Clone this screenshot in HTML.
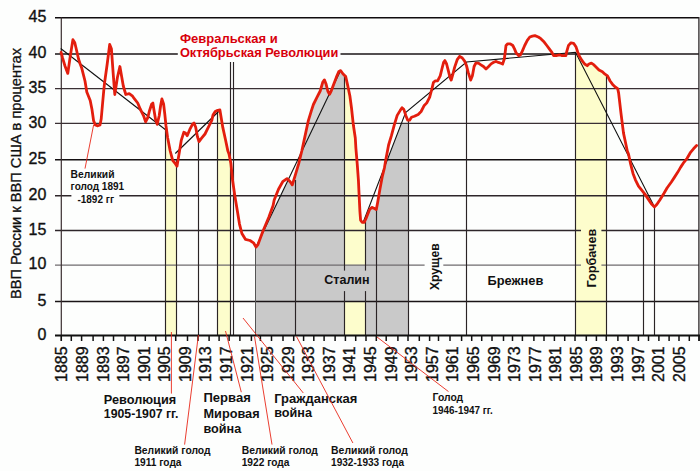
<!DOCTYPE html>
<html><head><meta charset="utf-8"><style>
html,body{margin:0;padding:0;background:#fdfefd;}
svg{display:block;}
</style></head><body>
<svg width="700" height="471" viewBox="0 0 700 471">
<rect x="0" y="0" width="700" height="471" fill="#fdfefd"/>
<path d="M166.0,336.0 L166.0,126.0 L167.6,137.4 L170.2,151.0 L172.7,160.3 L175.3,163.7 L176.4,165.3 L176.4,336.0 Z" fill="#fdfdcc"/>
<path d="M217.7,336.0 L217.7,110.3 L219.9,110.0 L221.1,117.2 L222.8,127.4 L225.4,139.2 L227.9,151.1 L229.0,154.0 L230.5,161.4 L230.5,336.0 Z" fill="#fdfdcc"/>
<path d="M344.7,336.0 L344.7,75.5 L345.7,76.5 L347.4,84.1 L349.9,96.0 L351.5,108.0 L353.4,125.3 L355.3,138.0 L355.9,148.3 L357.2,163.6 L358.4,179.9 L359.1,194.8 L359.9,211.1 L360.6,220.1 L362.1,222.3 L364.3,222.3 L366.0,218.5 L366.0,336.0 Z" fill="#fdfdcc"/>
<path d="M575.8,336.0 L575.8,46.6 L576.1,47.1 L577.8,52.2 L579.5,56.4 L582.1,60.7 L584.6,64.0 L587.2,65.7 L588.9,64.0 L591.4,63.2 L594.0,64.9 L596.5,67.4 L599.0,70.0 L602.4,71.7 L605.0,74.2 L606.2,75.0 L606.2,336.0 Z" fill="#fdfdcc"/>
<path d="M300.0,336.0 L300.0,158.4 L301.8,151.0 L305.0,136.1 L308.2,121.2 L311.4,110.6 L313.4,104.5 L316.8,97.7 L320.2,91.0 L322.7,82.4 L324.4,79.9 L326.1,84.1 L327.8,91.0 L329.5,94.3 L331.2,91.0 L333.8,84.1 L336.3,77.4 L338.9,71.4 L340.6,70.6 L343.1,74.0 L344.7,75.5 L344.7,336.0 Z" fill="#d5d5d5"/>
<path d="M255.70,336.0 L255.70,246.50 L255.95,246.92 L256.00,247.00 L256.20,246.77 L256.45,246.48 L256.70,246.18 L256.95,245.89 L257.20,245.60 L257.45,245.31 L257.70,245.02 L257.80,244.90 L257.95,244.49 L258.20,243.82 L258.45,243.14 L258.70,242.47 L258.95,241.79 L259.20,241.12 L259.45,240.44 L259.70,239.77 L259.95,239.09 L260.20,238.41 L260.45,237.74 L260.70,237.20 L260.95,236.68 L261.20,236.16 L261.45,235.64 L261.70,235.11 L261.95,234.59 L262.20,234.07 L262.45,233.55 L262.50,233.45 L262.70,233.03 L262.95,232.51 L263.20,231.99 L263.45,231.47 L263.70,230.94 L263.95,230.42 L264.20,229.90 L264.45,229.38 L264.70,228.86 L264.95,228.34 L265.20,227.82 L265.45,227.30 L265.70,226.77 L265.95,226.25 L266.20,225.73 L266.45,225.21 L266.70,224.69 L266.95,224.17 L267.20,223.65 L267.45,223.13 L267.70,222.60 L267.95,222.08 L268.20,221.56 L268.45,221.04 L268.70,220.52 L268.80,220.31 L268.95,220.00 L269.20,219.48 L269.45,218.96 L269.70,218.43 L269.95,217.91 L270.20,217.39 L270.45,216.87 L270.70,216.35 L270.95,215.83 L271.20,215.31 L271.45,214.79 L271.70,214.26 L271.95,213.74 L272.20,213.22 L272.45,212.70 L272.70,212.18 L272.95,211.66 L273.10,211.34 L273.20,211.14 L273.45,210.61 L273.70,210.09 L273.95,209.57 L274.20,209.05 L274.45,208.53 L274.70,208.01 L274.95,207.49 L275.20,206.97 L275.45,206.44 L275.70,205.92 L275.95,205.40 L276.20,204.88 L276.45,204.36 L276.70,203.84 L276.95,203.32 L277.20,202.80 L277.45,202.27 L277.70,201.75 L277.95,201.23 L278.20,200.71 L278.45,200.19 L278.50,200.09 L278.70,199.67 L278.95,199.15 L279.20,198.63 L279.45,198.10 L279.70,197.58 L279.95,197.06 L280.20,196.54 L280.45,196.02 L280.70,195.50 L280.95,194.98 L281.20,194.46 L281.45,193.93 L281.70,193.41 L281.95,192.89 L282.20,192.37 L282.45,191.85 L282.70,191.33 L282.95,190.81 L283.20,190.29 L283.45,189.76 L283.70,189.24 L283.95,188.72 L284.20,188.20 L284.45,187.68 L284.70,187.16 L284.95,186.64 L285.20,186.11 L285.45,185.59 L285.70,185.07 L285.95,184.55 L286.20,184.03 L286.45,183.51 L286.70,182.99 L286.95,182.47 L287.00,182.36 L287.20,181.94 L287.45,181.42 L287.70,180.90 L287.95,180.38 L288.20,179.86 L288.45,180.00 L288.70,180.25 L288.95,180.49 L289.20,180.73 L289.45,180.97 L289.70,181.22 L289.95,181.46 L290.20,181.70 L290.45,182.08 L290.70,182.46 L290.95,182.84 L291.20,183.22 L291.45,183.60 L291.70,183.99 L291.95,184.37 L292.20,184.75 L292.30,184.90 L292.45,184.40 L292.70,183.58 L292.95,182.75 L293.20,181.92 L293.45,181.09 L293.70,180.26 L293.95,179.43 L294.20,178.61 L294.45,177.78 L294.70,176.95 L294.95,176.12 L295.20,175.29 L295.45,174.47 L295.50,174.30 L295.70,173.64 L295.95,172.81 L296.20,171.98 L296.45,171.15 L296.70,170.33 L296.95,169.50 L297.20,168.67 L297.45,167.84 L297.70,167.01 L297.95,166.18 L298.20,165.36 L298.45,164.53 L298.70,163.70 L298.95,162.68 L299.20,161.65 L299.45,160.63 L299.70,159.60 L299.95,158.58 L300.20,157.55 L300.45,156.53 L300.70,155.51 L300.95,154.48 L301.20,153.46 L301.45,152.43 L301.70,151.71 L301.80,151.50 L301.95,151.19 L302.20,150.67 L302.45,150.15 L302.70,149.63 L302.95,149.10 L303.20,148.58 L303.45,148.06 L303.70,147.54 L303.95,147.02 L304.20,146.50 L304.45,145.98 L304.70,145.46 L304.95,144.93 L305.00,144.83 L305.20,144.41 L305.45,143.89 L305.70,143.37 L305.95,142.85 L306.20,142.33 L306.45,141.81 L306.70,141.29 L306.95,140.76 L307.20,140.24 L307.45,139.72 L307.70,139.20 L307.95,138.68 L308.20,138.16 L308.45,137.64 L308.70,137.11 L308.95,136.59 L309.20,136.07 L309.45,135.55 L309.70,135.03 L309.95,134.51 L310.20,133.99 L310.45,133.47 L310.70,132.94 L310.95,132.42 L311.20,131.90 L311.40,131.49 L311.45,131.38 L311.70,130.86 L311.95,130.34 L312.20,129.82 L312.45,129.30 L312.70,128.77 L312.95,128.25 L313.20,127.73 L313.40,127.31 L313.45,127.21 L313.70,126.69 L313.95,126.17 L314.20,125.65 L314.45,125.13 L314.70,124.60 L314.95,124.08 L315.20,123.56 L315.45,123.04 L315.70,122.52 L315.95,122.00 L316.20,121.48 L316.45,120.96 L316.70,120.43 L316.80,120.23 L316.95,119.91 L317.20,119.39 L317.45,118.87 L317.70,118.35 L317.95,117.83 L318.20,117.31 L318.45,116.79 L318.70,116.26 L318.95,115.74 L319.20,115.22 L319.45,114.70 L319.70,114.18 L319.95,113.66 L320.20,113.14 L320.45,112.61 L320.70,112.09 L320.95,111.57 L321.20,111.05 L321.45,110.53 L321.70,110.01 L321.95,109.49 L322.20,108.97 L322.45,108.44 L322.70,107.92 L322.95,107.40 L323.20,106.88 L323.45,106.36 L323.70,105.84 L323.95,105.32 L324.20,104.80 L324.40,104.38 L324.45,104.27 L324.70,103.75 L324.95,103.23 L325.20,102.71 L325.45,102.19 L325.70,101.67 L325.95,101.15 L326.10,100.83 L326.20,100.63 L326.45,100.10 L326.70,99.58 L326.95,99.06 L327.20,98.54 L327.45,98.02 L327.70,97.50 L327.80,97.29 L327.95,96.98 L328.20,96.46 L328.45,95.93 L328.70,95.41 L328.95,94.89 L329.20,94.37 L329.45,94.20 L329.50,94.30 L329.70,93.91 L329.95,93.43 L330.20,92.94 L330.45,92.46 L330.70,91.97 L330.95,91.49 L331.20,91.00 L331.45,90.34 L331.70,89.67 L331.95,89.01 L332.20,88.35 L332.45,87.68 L332.70,87.07 L332.95,86.55 L333.20,86.03 L333.45,85.51 L333.70,84.99 L333.80,84.78 L333.95,84.47 L334.20,83.94 L334.45,83.42 L334.70,82.90 L334.95,82.38 L335.20,81.86 L335.45,81.34 L335.70,80.82 L335.95,80.30 L336.20,79.77 L336.30,79.57 L336.45,79.25 L336.70,78.73 L336.95,78.21 L337.20,77.69 L337.45,77.17 L337.70,76.65 L337.95,76.13 L338.20,75.60 L338.45,75.08 L338.70,74.56 L338.90,74.14 L338.95,74.04 L339.20,73.52 L339.45,73.00 L339.70,72.48 L339.95,71.96 L340.20,71.43 L340.45,70.91 L340.60,70.60 L340.70,70.74 L340.95,71.08 L341.20,71.42 L341.45,71.76 L341.70,72.10 L341.95,72.44 L342.20,72.78 L342.45,73.12 L342.70,73.46 L342.95,73.80 L343.10,74.00 L343.20,74.10 L343.45,74.34 L343.70,74.58 L343.95,74.82 L344.20,75.06 L344.45,75.30 L344.70,75.54 L344.70,336.0 Z" fill="#c9c9c9"/>
<path d="M366.00,336.0 L366.00,218.46 L366.25,217.89 L366.50,217.33 L366.60,217.10 L366.75,216.73 L367.00,216.10 L367.25,215.48 L367.50,214.85 L367.75,214.23 L368.00,213.60 L368.25,212.98 L368.50,212.35 L368.75,211.73 L369.00,211.10 L369.25,210.48 L369.50,209.85 L369.60,209.60 L369.75,209.45 L370.00,209.20 L370.25,208.95 L370.50,208.70 L370.75,208.45 L371.00,208.20 L371.25,207.95 L371.50,207.70 L371.75,207.45 L371.80,207.40 L372.00,207.47 L372.25,207.56 L372.50,207.65 L372.75,207.75 L373.00,207.84 L373.25,207.93 L373.50,208.02 L373.75,208.11 L374.00,208.20 L374.25,208.35 L374.50,208.50 L374.75,208.66 L375.00,208.81 L375.25,208.96 L375.50,209.11 L375.75,209.27 L376.00,209.42 L376.25,209.57 L376.30,209.60 L376.50,208.54 L376.75,207.22 L377.00,205.90 L377.25,204.58 L377.50,203.26 L377.70,202.20 L377.75,201.91 L378.00,200.45 L378.25,199.00 L378.50,197.54 L378.75,196.08 L379.00,194.63 L379.25,193.17 L379.50,191.71 L379.75,190.26 L380.00,188.80 L380.25,187.45 L380.50,186.10 L380.75,184.74 L381.00,183.39 L381.25,182.04 L381.50,180.69 L381.75,179.33 L382.00,177.98 L382.20,176.90 L382.25,176.70 L382.50,175.69 L382.75,174.67 L383.00,173.66 L383.25,172.65 L383.50,171.64 L383.75,170.63 L384.00,169.62 L384.25,168.61 L384.40,168.00 L384.50,167.41 L384.75,166.46 L385.00,165.81 L385.25,165.16 L385.50,164.52 L385.70,164.00 L385.75,163.87 L386.00,163.22 L386.25,162.57 L386.50,161.93 L386.75,161.28 L387.00,160.63 L387.25,159.99 L387.50,159.34 L387.75,158.69 L388.00,158.05 L388.25,157.40 L388.50,156.75 L388.60,156.49 L388.75,156.10 L389.00,155.46 L389.25,154.81 L389.50,154.16 L389.75,153.52 L390.00,152.87 L390.25,152.22 L390.50,151.58 L390.75,150.93 L391.00,150.28 L391.25,149.64 L391.50,148.99 L391.75,148.34 L392.00,147.69 L392.25,147.05 L392.50,146.40 L392.75,145.75 L393.00,145.11 L393.25,144.46 L393.50,143.81 L393.75,143.17 L394.00,142.52 L394.25,141.87 L394.30,141.74 L394.50,141.22 L394.75,140.58 L395.00,139.93 L395.25,139.28 L395.50,138.64 L395.75,137.99 L396.00,137.34 L396.25,136.70 L396.50,136.05 L396.75,135.40 L397.00,134.76 L397.20,134.24 L397.25,134.11 L397.50,133.46 L397.75,132.81 L398.00,132.17 L398.25,131.52 L398.50,130.87 L398.75,130.23 L399.00,129.58 L399.25,128.93 L399.50,128.29 L399.75,127.64 L400.00,126.99 L400.10,126.73 L400.25,126.34 L400.50,125.70 L400.75,125.05 L401.00,124.40 L401.25,123.76 L401.50,123.30 L401.75,123.30 L402.00,123.30 L402.25,123.30 L402.50,123.30 L402.75,123.30 L403.00,123.30 L403.25,123.30 L403.50,123.30 L403.75,123.30 L403.90,123.30 L404.00,123.30 L404.25,123.30 L404.50,123.30 L404.75,123.30 L405.00,123.30 L405.25,123.30 L405.50,123.30 L405.75,123.30 L405.80,123.30 L406.00,123.30 L406.25,123.30 L406.50,123.30 L406.75,123.30 L407.00,123.30 L407.25,123.30 L407.50,123.30 L407.70,123.30 L407.75,123.30 L408.00,123.30 L408.25,123.30 L408.40,123.30 L408.40,336.0 Z" fill="#c9c9c9"/>
<rect x="344.7" y="265" width="21.3" height="36.5" fill="#c9c9c9"/>
<line x1="55" y1="17.8" x2="699" y2="17.8" stroke="#100c0e" stroke-width="1.6"/>
<line x1="55" y1="54.0" x2="699" y2="54.0" stroke="#1a1416" stroke-width="1.5"/>
<line x1="55" y1="88.7" x2="699" y2="88.7" stroke="#3a3034" stroke-width="1.3"/>
<line x1="55" y1="123.3" x2="699" y2="123.3" stroke="#3a3034" stroke-width="1.3"/>
<line x1="55" y1="159.8" x2="699" y2="159.8" stroke="#141012" stroke-width="1.6"/>
<line x1="55" y1="195.7" x2="699" y2="195.7" stroke="#2e262a" stroke-width="1.4"/>
<line x1="55" y1="230.5" x2="699" y2="230.5" stroke="#2e262a" stroke-width="1.4"/>
<line x1="55" y1="265.1" x2="699" y2="265.1" stroke="#6f6b6e" stroke-width="1.1"/>
<line x1="55" y1="301.5" x2="699" y2="301.5" stroke="#1a1416" stroke-width="1.5"/>
<line x1="165.5" y1="130" x2="165.5" y2="336" stroke="#2a2426" stroke-width="1.15"/>
<line x1="176.5" y1="160" x2="176.5" y2="336" stroke="#2a2426" stroke-width="1.15"/>
<line x1="198.5" y1="141" x2="198.5" y2="336" stroke="#2a2426" stroke-width="1.15"/>
<line x1="217.5" y1="111" x2="217.5" y2="336" stroke="#2a2426" stroke-width="1.15"/>
<line x1="230.5" y1="62" x2="230.5" y2="336" stroke="#2a2426" stroke-width="1.15"/>
<line x1="233.5" y1="62" x2="233.5" y2="336" stroke="#2a2426" stroke-width="1.15"/>
<line x1="295.5" y1="180" x2="295.5" y2="336" stroke="#2a2426" stroke-width="1.15"/>
<line x1="344.5" y1="76" x2="344.5" y2="336" stroke="#2a2426" stroke-width="1.15"/>
<line x1="365.5" y1="222" x2="365.5" y2="336" stroke="#2a2426" stroke-width="1.15"/>
<line x1="376.5" y1="208" x2="376.5" y2="336" stroke="#2a2426" stroke-width="1.15"/>
<line x1="408.5" y1="120" x2="408.5" y2="336" stroke="#2a2426" stroke-width="1.15"/>
<line x1="466.5" y1="62" x2="466.5" y2="336" stroke="#2a2426" stroke-width="1.15"/>
<line x1="575.5" y1="52" x2="575.5" y2="336" stroke="#2a2426" stroke-width="1.15"/>
<line x1="606.5" y1="74" x2="606.5" y2="336" stroke="#2a2426" stroke-width="1.15"/>
<line x1="643.5" y1="193" x2="643.5" y2="336" stroke="#2a2426" stroke-width="1.15"/>
<line x1="654.5" y1="207" x2="654.5" y2="336" stroke="#2a2426" stroke-width="1.15"/>
<line x1="255.5" y1="247" x2="255.5" y2="336" stroke="#555" stroke-width="1"/>
<line x1="698.9" y1="17" x2="698.9" y2="341" stroke="#2a2426" stroke-width="1.3"/>
<line x1="61.3" y1="17.3" x2="61.3" y2="341" stroke="#3a2e30" stroke-width="1.2"/>
<line x1="55" y1="335.5" x2="700" y2="335.5" stroke="#111" stroke-width="2"/>
<line x1="61.3" y1="336" x2="61.3" y2="341" stroke="#111" stroke-width="1.5"/>
<line x1="71.3" y1="336" x2="71.3" y2="341" stroke="#111" stroke-width="1.5"/>
<line x1="81.6" y1="336" x2="81.6" y2="341" stroke="#111" stroke-width="1.5"/>
<line x1="93.1" y1="336" x2="93.1" y2="341" stroke="#111" stroke-width="1.5"/>
<line x1="103.4" y1="336" x2="103.4" y2="341" stroke="#111" stroke-width="1.5"/>
<line x1="113.5" y1="336" x2="113.5" y2="341" stroke="#111" stroke-width="1.5"/>
<line x1="125.0" y1="336" x2="125.0" y2="341" stroke="#111" stroke-width="1.5"/>
<line x1="135.3" y1="336" x2="135.3" y2="341" stroke="#111" stroke-width="1.5"/>
<line x1="145.3" y1="336" x2="145.3" y2="341" stroke="#111" stroke-width="1.5"/>
<line x1="155.8" y1="336" x2="155.8" y2="341" stroke="#111" stroke-width="1.5"/>
<line x1="165.7" y1="336" x2="165.7" y2="341" stroke="#111" stroke-width="1.5"/>
<line x1="175.7" y1="336" x2="175.7" y2="341" stroke="#111" stroke-width="1.5"/>
<line x1="187.5" y1="336" x2="187.5" y2="341" stroke="#111" stroke-width="1.5"/>
<line x1="198.0" y1="336" x2="198.0" y2="341" stroke="#111" stroke-width="1.5"/>
<line x1="209.1" y1="336" x2="209.1" y2="341" stroke="#111" stroke-width="1.5"/>
<line x1="219.1" y1="336" x2="219.1" y2="341" stroke="#111" stroke-width="1.5"/>
<line x1="229.1" y1="336" x2="229.1" y2="341" stroke="#111" stroke-width="1.5"/>
<line x1="239.9" y1="336" x2="239.9" y2="341" stroke="#111" stroke-width="1.5"/>
<line x1="251.4" y1="336" x2="251.4" y2="341" stroke="#111" stroke-width="1.5"/>
<line x1="260.4" y1="336" x2="260.4" y2="341" stroke="#111" stroke-width="1.5"/>
<line x1="271.5" y1="336" x2="271.5" y2="341" stroke="#111" stroke-width="1.5"/>
<line x1="283.0" y1="336" x2="283.0" y2="341" stroke="#111" stroke-width="1.5"/>
<line x1="293.7" y1="336" x2="293.7" y2="341" stroke="#111" stroke-width="1.5"/>
<line x1="303.6" y1="336" x2="303.6" y2="341" stroke="#111" stroke-width="1.5"/>
<line x1="313.8" y1="336" x2="313.8" y2="341" stroke="#111" stroke-width="1.5"/>
<line x1="324.1" y1="336" x2="324.1" y2="341" stroke="#111" stroke-width="1.5"/>
<line x1="335.1" y1="336" x2="335.1" y2="341" stroke="#111" stroke-width="1.5"/>
<line x1="345.4" y1="336" x2="345.4" y2="341" stroke="#111" stroke-width="1.5"/>
<line x1="355.7" y1="336" x2="355.7" y2="341" stroke="#111" stroke-width="1.5"/>
<line x1="366.0" y1="336" x2="366.0" y2="341" stroke="#111" stroke-width="1.5"/>
<line x1="376.3" y1="336" x2="376.3" y2="341" stroke="#111" stroke-width="1.5"/>
<line x1="386.2" y1="336" x2="386.2" y2="341" stroke="#111" stroke-width="1.5"/>
<line x1="397.9" y1="336" x2="397.9" y2="341" stroke="#111" stroke-width="1.5"/>
<line x1="408.0" y1="336" x2="408.0" y2="341" stroke="#111" stroke-width="1.5"/>
<line x1="419.3" y1="336" x2="419.3" y2="341" stroke="#111" stroke-width="1.5"/>
<line x1="429.6" y1="336" x2="429.6" y2="341" stroke="#111" stroke-width="1.5"/>
<line x1="438.5" y1="336" x2="438.5" y2="341" stroke="#111" stroke-width="1.5"/>
<line x1="450.0" y1="336" x2="450.0" y2="341" stroke="#111" stroke-width="1.5"/>
<line x1="461.6" y1="336" x2="461.6" y2="341" stroke="#111" stroke-width="1.5"/>
<line x1="471.7" y1="336" x2="471.7" y2="341" stroke="#111" stroke-width="1.5"/>
<line x1="481.7" y1="336" x2="481.7" y2="341" stroke="#111" stroke-width="1.5"/>
<line x1="492.0" y1="336" x2="492.0" y2="341" stroke="#111" stroke-width="1.5"/>
<line x1="503.5" y1="336" x2="503.5" y2="341" stroke="#111" stroke-width="1.5"/>
<line x1="512.5" y1="336" x2="512.5" y2="341" stroke="#111" stroke-width="1.5"/>
<line x1="522.4" y1="336" x2="522.4" y2="341" stroke="#111" stroke-width="1.5"/>
<line x1="533.9" y1="336" x2="533.9" y2="341" stroke="#111" stroke-width="1.5"/>
<line x1="544.0" y1="336" x2="544.0" y2="341" stroke="#111" stroke-width="1.5"/>
<line x1="554.4" y1="336" x2="554.4" y2="341" stroke="#111" stroke-width="1.5"/>
<line x1="564.7" y1="336" x2="564.7" y2="341" stroke="#111" stroke-width="1.5"/>
<line x1="575.0" y1="336" x2="575.0" y2="341" stroke="#111" stroke-width="1.5"/>
<line x1="586.3" y1="336" x2="586.3" y2="341" stroke="#111" stroke-width="1.5"/>
<line x1="596.4" y1="336" x2="596.4" y2="341" stroke="#111" stroke-width="1.5"/>
<line x1="606.3" y1="336" x2="606.3" y2="341" stroke="#111" stroke-width="1.5"/>
<line x1="617.9" y1="336" x2="617.9" y2="341" stroke="#111" stroke-width="1.5"/>
<line x1="628.1" y1="336" x2="628.1" y2="341" stroke="#111" stroke-width="1.5"/>
<line x1="638.4" y1="336" x2="638.4" y2="341" stroke="#111" stroke-width="1.5"/>
<line x1="648.5" y1="336" x2="648.5" y2="341" stroke="#111" stroke-width="1.5"/>
<line x1="658.9" y1="336" x2="658.9" y2="341" stroke="#111" stroke-width="1.5"/>
<line x1="669.1" y1="336" x2="669.1" y2="341" stroke="#111" stroke-width="1.5"/>
<line x1="679.0" y1="336" x2="679.0" y2="341" stroke="#111" stroke-width="1.5"/>
<line x1="689.3" y1="336" x2="689.3" y2="341" stroke="#111" stroke-width="1.5"/>
<line x1="699.1" y1="336" x2="699.1" y2="341" stroke="#111" stroke-width="1.5"/>
<polyline points="60.7,48.5 166.5,130.5" fill="none" stroke="#111" stroke-width="1.1"/>
<polyline points="175.3,153.5 218.6,111.5" fill="none" stroke="#111" stroke-width="1.1"/>
<polyline points="256.0,247.0 340.6,70.6" fill="none" stroke="#111" stroke-width="1.1"/>
<polyline points="362.9,223.0 405.6,112.5 466.5,62.0 575.5,52.3 654.5,207.0" fill="none" stroke="#111" stroke-width="1.1"/>
<polyline points="61.1,52.3 62.4,57.4 65.0,66.0 67.8,73.4 70.0,58.0 72.9,39.6 74.8,42.8 76.5,50.0 78.6,59.3 80.0,63.5 81.8,68.3 85.0,81.0 86.8,91.9 90.2,100.4 91.9,108.9 93.6,120.7 95.3,125.0 97.8,125.8 100.0,125.0 101.2,119.0 102.4,105.5 103.8,90.2 104.6,82.6 107.2,64.0 109.7,44.4 111.4,48.7 113.1,72.4 114.8,94.5 117.4,77.5 119.9,66.5 123.3,86.0 125.8,94.5 129.2,93.7 132.6,96.2 134.3,98.7 137.7,103.0 140.2,109.0 143.6,115.8 145.6,121.8 147.8,117.5 149.5,110.7 151.7,104.0 152.9,103.1 153.8,109.0 155.5,119.2 157.2,124.3 159.2,115.8 160.6,105.7 161.9,98.9 163.6,104.0 164.8,114.1 166.0,126.0 167.6,137.4 170.2,151.0 172.7,160.3 175.3,163.7 177.0,166.2 178.7,156.0 181.2,140.7 183.8,132.3 185.5,133.1 187.2,135.7 189.7,129.7 192.3,124.6 194.0,123.0 195.7,127.2 197.4,136.5 199.0,141.6 201.6,138.2 205.0,134.0 208.4,127.2 211.8,120.4 213.0,115.0 215.2,111.5 217.7,110.3 219.9,110.0 221.1,117.2 222.8,127.4 225.4,139.2 227.9,151.1 229.0,154.0 230.9,163.4 232.5,179.7 234.9,196.1 237.2,210.1 239.5,224.1 241.9,233.5 245.4,239.3 250.0,240.5 253.5,242.8 256.0,247.0 257.8,244.9 262.5,232.2 268.8,217.3 273.1,205.6 274.2,200.0 278.5,189.2 282.7,181.7 287.0,178.6 290.2,181.7 292.3,184.9 295.5,174.3 298.7,163.7 301.8,151.0 305.0,136.1 308.2,121.2 311.4,110.6 313.4,104.5 316.8,97.7 320.2,91.0 322.7,82.4 324.4,79.9 326.1,84.1 327.8,91.0 329.5,94.3 331.2,91.0 333.8,84.1 336.3,77.4 338.9,71.4 340.6,70.6 343.1,74.0 345.7,76.5 347.4,84.1 349.9,96.0 351.5,108.0 353.4,125.3 355.3,138.0 355.9,148.3 357.2,163.6 358.4,179.9 359.1,194.8 359.9,211.1 360.6,220.1 362.1,222.3 364.3,222.3 366.6,217.1 369.6,209.6 371.8,207.4 374.0,208.2 376.3,209.6 377.7,202.2 380.0,188.8 382.2,176.9 384.4,168.0 385.7,160.3 388.6,145.0 391.5,135.4 394.3,124.9 397.2,115.4 400.1,110.6 402.0,107.7 403.9,109.6 405.8,115.4 407.7,120.2 409.6,120.2 411.5,117.3 414.4,116.3 418.2,114.4 421.1,111.5 424.0,105.8 426.8,102.9 429.7,97.2 431.6,90.0 433.4,82.6 435.1,80.9 437.6,80.9 440.2,75.8 441.9,69.0 443.6,62.3 444.9,60.6 446.6,64.0 448.3,70.7 450.0,77.5 451.2,80.1 452.9,74.1 454.6,67.4 457.2,59.7 459.7,56.3 462.3,58.0 464.8,61.4 466.5,65.7 468.2,72.4 470.7,80.1 472.4,75.8 474.1,66.5 475.8,63.1 478.4,63.1 480.9,64.8 483.5,66.5 486.0,69.0 488.6,66.5 491.1,63.9 493.7,62.3 496.2,61.4 498.4,62.4 500.9,63.3 502.6,64.1 504.3,59.0 505.2,52.3 506.0,45.5 507.7,43.8 510.3,43.8 512.8,45.5 514.5,48.9 516.2,53.1 518.8,55.7 520.5,54.8 522.2,51.4 524.7,45.5 527.3,40.4 529.8,37.0 532.4,36.1 534.9,35.6 538.3,37.0 540.8,38.7 544.2,42.1 546.8,45.5 549.3,48.9 551.9,52.3 553.6,55.7 556.1,55.7 559.5,54.8 562.1,55.7 565.9,55.6 566.8,51.3 568.5,45.4 571.0,42.8 573.6,43.3 576.1,47.1 577.8,52.2 579.5,56.4 582.1,60.7 584.6,64.0 587.2,65.7 588.9,64.0 591.4,63.2 594.0,64.9 596.5,67.4 599.0,70.0 602.4,71.7 605.0,74.2 607.5,75.9 610.1,81.0 612.6,84.4 615.2,87.0 617.7,88.7 618.6,92.9 619.4,99.7 620.9,112.7 622.2,122.9 623.5,133.1 625.4,142.0 627.3,151.0 628.5,154.0 630.6,163.9 633.0,173.4 635.4,179.8 638.5,186.2 641.7,190.2 644.9,194.1 648.1,198.9 651.3,203.7 654.5,206.9 656.8,204.5 660.0,199.7 664.0,193.3 667.2,187.8 671.2,182.2 674.4,177.4 677.5,172.6 680.7,167.1 683.9,162.3 687.1,158.3 690.3,152.7 693.5,148.8 696.6,145.5" fill="none" stroke="#e31e0e" stroke-width="2.8" stroke-linejoin="round" stroke-linecap="round"/>
<text x="46.3" y="22.1" font-family="Liberation Sans, sans-serif" font-size="16" text-anchor="end" fill="#111" stroke="#111" stroke-width="0.35">45</text>
<text x="46.3" y="58.3" font-family="Liberation Sans, sans-serif" font-size="16" text-anchor="end" fill="#111" stroke="#111" stroke-width="0.35">40</text>
<text x="46.3" y="93.0" font-family="Liberation Sans, sans-serif" font-size="16" text-anchor="end" fill="#111" stroke="#111" stroke-width="0.35">35</text>
<text x="46.3" y="127.6" font-family="Liberation Sans, sans-serif" font-size="16" text-anchor="end" fill="#111" stroke="#111" stroke-width="0.35">30</text>
<text x="46.3" y="164.1" font-family="Liberation Sans, sans-serif" font-size="16" text-anchor="end" fill="#111" stroke="#111" stroke-width="0.35">25</text>
<text x="46.3" y="200.0" font-family="Liberation Sans, sans-serif" font-size="16" text-anchor="end" fill="#111" stroke="#111" stroke-width="0.35">20</text>
<text x="46.3" y="234.8" font-family="Liberation Sans, sans-serif" font-size="16" text-anchor="end" fill="#111" stroke="#111" stroke-width="0.35">15</text>
<text x="46.3" y="269.4" font-family="Liberation Sans, sans-serif" font-size="16" text-anchor="end" fill="#111" stroke="#111" stroke-width="0.35">10</text>
<text x="46.3" y="305.8" font-family="Liberation Sans, sans-serif" font-size="16" text-anchor="end" fill="#111" stroke="#111" stroke-width="0.35">5</text>
<text x="46.3" y="340.4" font-family="Liberation Sans, sans-serif" font-size="16" text-anchor="end" fill="#111" stroke="#111" stroke-width="0.35">0</text>
<text transform="translate(21.3,299) rotate(-90)" font-family="Liberation Sans, sans-serif" font-size="15" fill="#111" stroke="#111" stroke-width="0.3" textLength="251" lengthAdjust="spacingAndGlyphs">ВВП России к ВВП США в процентах</text>
<text transform="translate(67.3,346.4) rotate(-90)" font-family="Liberation Sans, sans-serif" font-size="16" text-anchor="end" fill="#111" stroke="#111" stroke-width="0.35">1885</text>
<text transform="translate(87.9,346.4) rotate(-90)" font-family="Liberation Sans, sans-serif" font-size="16" text-anchor="end" fill="#111" stroke="#111" stroke-width="0.35">1889</text>
<text transform="translate(108.5,346.4) rotate(-90)" font-family="Liberation Sans, sans-serif" font-size="16" text-anchor="end" fill="#111" stroke="#111" stroke-width="0.35">1893</text>
<text transform="translate(129.0,346.4) rotate(-90)" font-family="Liberation Sans, sans-serif" font-size="16" text-anchor="end" fill="#111" stroke="#111" stroke-width="0.35">1897</text>
<text transform="translate(149.6,346.4) rotate(-90)" font-family="Liberation Sans, sans-serif" font-size="16" text-anchor="end" fill="#111" stroke="#111" stroke-width="0.35">1901</text>
<text transform="translate(170.2,346.4) rotate(-90)" font-family="Liberation Sans, sans-serif" font-size="16" text-anchor="end" fill="#111" stroke="#111" stroke-width="0.35">1905</text>
<text transform="translate(190.8,346.4) rotate(-90)" font-family="Liberation Sans, sans-serif" font-size="16" text-anchor="end" fill="#111" stroke="#111" stroke-width="0.35">1909</text>
<text transform="translate(211.4,346.4) rotate(-90)" font-family="Liberation Sans, sans-serif" font-size="16" text-anchor="end" fill="#111" stroke="#111" stroke-width="0.35">1913</text>
<text transform="translate(231.9,346.4) rotate(-90)" font-family="Liberation Sans, sans-serif" font-size="16" text-anchor="end" fill="#111" stroke="#111" stroke-width="0.35">1917</text>
<text transform="translate(252.5,346.4) rotate(-90)" font-family="Liberation Sans, sans-serif" font-size="16" text-anchor="end" fill="#111" stroke="#111" stroke-width="0.35">1921</text>
<text transform="translate(273.1,346.4) rotate(-90)" font-family="Liberation Sans, sans-serif" font-size="16" text-anchor="end" fill="#111" stroke="#111" stroke-width="0.35">1925</text>
<text transform="translate(293.7,346.4) rotate(-90)" font-family="Liberation Sans, sans-serif" font-size="16" text-anchor="end" fill="#111" stroke="#111" stroke-width="0.35">1929</text>
<text transform="translate(314.3,346.4) rotate(-90)" font-family="Liberation Sans, sans-serif" font-size="16" text-anchor="end" fill="#111" stroke="#111" stroke-width="0.35">1933</text>
<text transform="translate(334.8,346.4) rotate(-90)" font-family="Liberation Sans, sans-serif" font-size="16" text-anchor="end" fill="#111" stroke="#111" stroke-width="0.35">1937</text>
<text transform="translate(355.4,346.4) rotate(-90)" font-family="Liberation Sans, sans-serif" font-size="16" text-anchor="end" fill="#111" stroke="#111" stroke-width="0.35">1941</text>
<text transform="translate(376.0,346.4) rotate(-90)" font-family="Liberation Sans, sans-serif" font-size="16" text-anchor="end" fill="#111" stroke="#111" stroke-width="0.35">1945</text>
<text transform="translate(396.6,346.4) rotate(-90)" font-family="Liberation Sans, sans-serif" font-size="16" text-anchor="end" fill="#111" stroke="#111" stroke-width="0.35">1949</text>
<text transform="translate(417.2,346.4) rotate(-90)" font-family="Liberation Sans, sans-serif" font-size="16" text-anchor="end" fill="#111" stroke="#111" stroke-width="0.35">1953</text>
<text transform="translate(437.7,346.4) rotate(-90)" font-family="Liberation Sans, sans-serif" font-size="16" text-anchor="end" fill="#111" stroke="#111" stroke-width="0.35">1957</text>
<text transform="translate(458.3,346.4) rotate(-90)" font-family="Liberation Sans, sans-serif" font-size="16" text-anchor="end" fill="#111" stroke="#111" stroke-width="0.35">1961</text>
<text transform="translate(478.9,346.4) rotate(-90)" font-family="Liberation Sans, sans-serif" font-size="16" text-anchor="end" fill="#111" stroke="#111" stroke-width="0.35">1965</text>
<text transform="translate(499.5,346.4) rotate(-90)" font-family="Liberation Sans, sans-serif" font-size="16" text-anchor="end" fill="#111" stroke="#111" stroke-width="0.35">1969</text>
<text transform="translate(520.1,346.4) rotate(-90)" font-family="Liberation Sans, sans-serif" font-size="16" text-anchor="end" fill="#111" stroke="#111" stroke-width="0.35">1973</text>
<text transform="translate(540.6,346.4) rotate(-90)" font-family="Liberation Sans, sans-serif" font-size="16" text-anchor="end" fill="#111" stroke="#111" stroke-width="0.35">1977</text>
<text transform="translate(561.2,346.4) rotate(-90)" font-family="Liberation Sans, sans-serif" font-size="16" text-anchor="end" fill="#111" stroke="#111" stroke-width="0.35">1981</text>
<text transform="translate(581.8,346.4) rotate(-90)" font-family="Liberation Sans, sans-serif" font-size="16" text-anchor="end" fill="#111" stroke="#111" stroke-width="0.35">1985</text>
<text transform="translate(602.4,346.4) rotate(-90)" font-family="Liberation Sans, sans-serif" font-size="16" text-anchor="end" fill="#111" stroke="#111" stroke-width="0.35">1989</text>
<text transform="translate(623.0,346.4) rotate(-90)" font-family="Liberation Sans, sans-serif" font-size="16" text-anchor="end" fill="#111" stroke="#111" stroke-width="0.35">1993</text>
<text transform="translate(643.5,346.4) rotate(-90)" font-family="Liberation Sans, sans-serif" font-size="16" text-anchor="end" fill="#111" stroke="#111" stroke-width="0.35">1997</text>
<text transform="translate(664.1,346.4) rotate(-90)" font-family="Liberation Sans, sans-serif" font-size="16" text-anchor="end" fill="#111" stroke="#111" stroke-width="0.35">2001</text>
<text transform="translate(684.7,346.4) rotate(-90)" font-family="Liberation Sans, sans-serif" font-size="16" text-anchor="end" fill="#111" stroke="#111" stroke-width="0.35">2005</text>
<rect x="71.4" y="192" width="48" height="7" fill="#fdfefd"/>
<rect x="177.8" y="50" width="162.7" height="8" fill="#fdfefd"/>
<rect x="424.6" y="262" width="18.7" height="6" fill="#fdfefd"/>
<rect x="581" y="227" width="20.4" height="7" fill="#fdfdcc"/>
<rect x="581" y="262" width="20.4" height="6" fill="#fdfdcc"/>
<rect x="343" y="270.6" width="26" height="20.5" fill="#c9c9c9"/>
<text x="179.9" y="42.5" font-family="Liberation Sans, sans-serif" font-weight="bold" font-size="12" fill="#d8000c" textLength="97.9" lengthAdjust="spacingAndGlyphs" >Февральская и</text>
<text x="179.9" y="57" font-family="Liberation Sans, sans-serif" font-weight="bold" font-size="12" fill="#d8000c" textLength="158.4" lengthAdjust="spacingAndGlyphs" >Октябрьская Революции</text>
<text x="70.6" y="178" font-family="Liberation Sans, sans-serif" font-weight="bold" font-size="10" fill="#111" textLength="43.9" lengthAdjust="spacingAndGlyphs" >Великий</text>
<text x="70.6" y="190.4" font-family="Liberation Sans, sans-serif" font-weight="bold" font-size="10" fill="#111" textLength="53.5" lengthAdjust="spacingAndGlyphs" >голод 1891</text>
<text x="77.4" y="202.9" font-family="Liberation Sans, sans-serif" font-weight="bold" font-size="10" fill="#111" textLength="36.7" lengthAdjust="spacingAndGlyphs" >-1892 гг</text>
<text x="324.3" y="284.1" font-family="Liberation Sans, sans-serif" font-weight="bold" font-size="13" fill="#111" textLength="45.3" lengthAdjust="spacingAndGlyphs" >Сталин</text>
<text x="487.5" y="284.5" font-family="Liberation Sans, sans-serif" font-weight="bold" font-size="13" fill="#111" textLength="55.9" lengthAdjust="spacingAndGlyphs" >Брежнев</text>
<text transform="translate(439,290.1) rotate(-90)" font-family="Liberation Sans, sans-serif" font-weight="bold" font-size="13" fill="#111" textLength="46.8" lengthAdjust="spacingAndGlyphs">Хрущев</text>
<text transform="translate(595.5,287.5) rotate(-90)" font-family="Liberation Sans, sans-serif" font-weight="bold" font-size="13" fill="#111" textLength="58.7" lengthAdjust="spacingAndGlyphs">Горбачев</text>
<text x="103.8" y="403.6" font-family="Liberation Sans, sans-serif" font-weight="bold" font-size="13" fill="#111" textLength="72.4" lengthAdjust="spacingAndGlyphs" >Революция</text>
<text x="103.8" y="418.1" font-family="Liberation Sans, sans-serif" font-weight="bold" font-size="13" fill="#111" textLength="74.6" lengthAdjust="spacingAndGlyphs" >1905-1907 гг.</text>
<text x="203.5" y="402.4" font-family="Liberation Sans, sans-serif" font-weight="bold" font-size="13" fill="#111" textLength="47.3" lengthAdjust="spacingAndGlyphs" >Первая</text>
<text x="203.5" y="417.5" font-family="Liberation Sans, sans-serif" font-weight="bold" font-size="13" fill="#111" textLength="56.1" lengthAdjust="spacingAndGlyphs" >Мировая</text>
<text x="203.5" y="432.9" font-family="Liberation Sans, sans-serif" font-weight="bold" font-size="13" fill="#111" textLength="37.8" lengthAdjust="spacingAndGlyphs" >война</text>
<text x="274.2" y="402.8" font-family="Liberation Sans, sans-serif" font-weight="bold" font-size="13" fill="#111" textLength="83.1" lengthAdjust="spacingAndGlyphs" >Гражданская</text>
<text x="274.2" y="417.2" font-family="Liberation Sans, sans-serif" font-weight="bold" font-size="13" fill="#111" textLength="37.8" lengthAdjust="spacingAndGlyphs" >война</text>
<text x="134.4" y="453.6" font-family="Liberation Sans, sans-serif" font-weight="bold" font-size="10" fill="#111" textLength="76.2" lengthAdjust="spacingAndGlyphs" >Великий голод</text>
<text x="134.4" y="466.1" font-family="Liberation Sans, sans-serif" font-weight="bold" font-size="10" fill="#111" textLength="47.1" lengthAdjust="spacingAndGlyphs" >1911 года</text>
<text x="241.7" y="453.6" font-family="Liberation Sans, sans-serif" font-weight="bold" font-size="10" fill="#111" textLength="76.2" lengthAdjust="spacingAndGlyphs" >Великий голод</text>
<text x="241.7" y="466.1" font-family="Liberation Sans, sans-serif" font-weight="bold" font-size="10" fill="#111" textLength="47.8" lengthAdjust="spacingAndGlyphs" >1922 года</text>
<text x="331.1" y="453.8" font-family="Liberation Sans, sans-serif" font-weight="bold" font-size="10" fill="#111" textLength="76.8" lengthAdjust="spacingAndGlyphs" >Великий голод</text>
<text x="331.1" y="466.1" font-family="Liberation Sans, sans-serif" font-weight="bold" font-size="10" fill="#111" textLength="72.9" lengthAdjust="spacingAndGlyphs" >1932-1933 года</text>
<text x="432.6" y="401.1" font-family="Liberation Sans, sans-serif" font-weight="bold" font-size="10" fill="#111" textLength="30.6" lengthAdjust="spacingAndGlyphs" >Голод</text>
<text x="432.6" y="414.2" font-family="Liberation Sans, sans-serif" font-weight="bold" font-size="10" fill="#111" textLength="60.1" lengthAdjust="spacingAndGlyphs" >1946-1947 гг.</text>
<polyline points="93.6,125.0 85.0,168.6" stroke="#e8281a" stroke-width="0.9" fill="none"/>
<polyline points="171.4,332.0 171.4,393.6" stroke="#e8281a" stroke-width="0.9" fill="none"/>
<polyline points="198.4,335.0 184.6,444.6" stroke="#e8281a" stroke-width="0.9" fill="none"/>
<polyline points="225.5,331.0 241.3,392.2" stroke="#e8281a" stroke-width="0.9" fill="none"/>
<polyline points="243.0,318.0 303.3,393.0" stroke="#e8281a" stroke-width="0.9" fill="none"/>
<polyline points="254.5,336.5 272.0,444.6" stroke="#e8281a" stroke-width="0.9" fill="none"/>
<polyline points="296.5,336.5 352.9,443.0" stroke="#e8281a" stroke-width="0.9" fill="none"/>
<polyline points="377.0,337.0 448.5,391.6" stroke="#e8281a" stroke-width="0.9" fill="none"/>
</svg>
</body></html>
